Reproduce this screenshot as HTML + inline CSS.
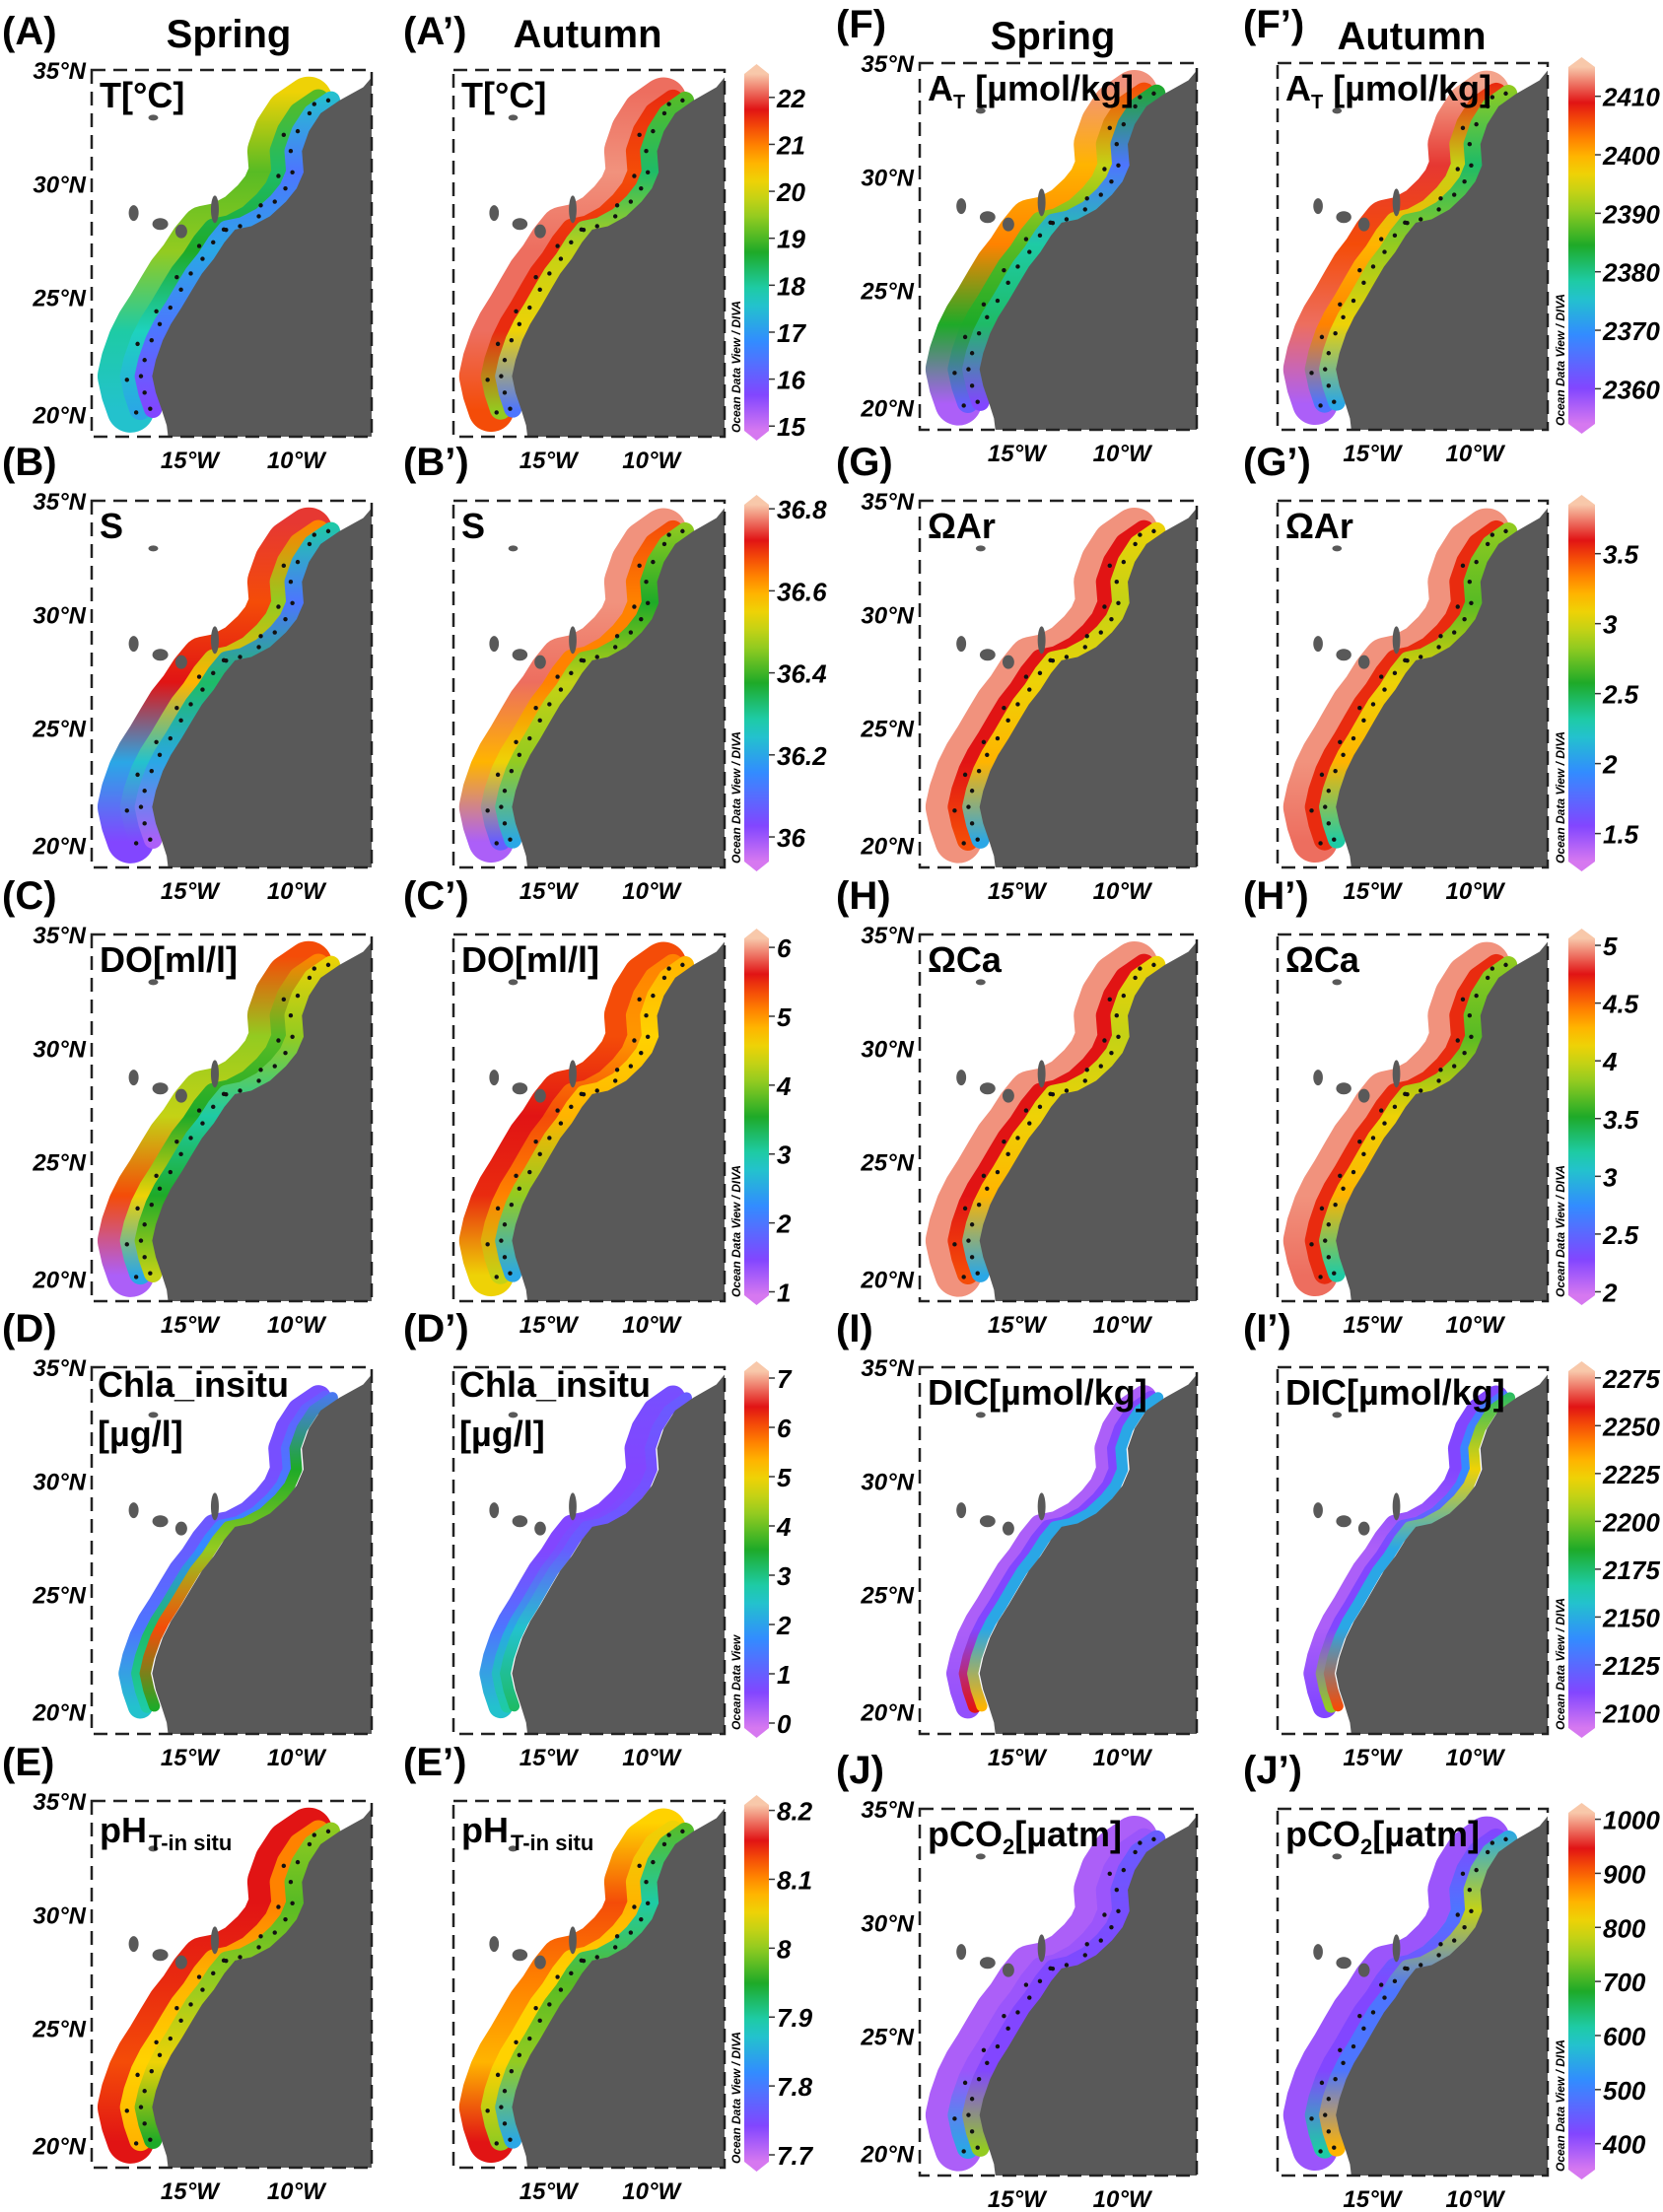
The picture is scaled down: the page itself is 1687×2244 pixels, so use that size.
<!DOCTYPE html>
<html><head><meta charset="utf-8">
<style>
html,body{margin:0;padding:0;background:#fff;}
svg{display:block;font-family:"Liberation Sans",sans-serif;}
.lab{font-weight:bold;font-size:40px;}
.ttl{font-weight:bold;font-size:36px;}
.ax{font-weight:bold;font-style:italic;font-size:24px;}
.cbl{font-weight:bold;font-style:italic;font-size:26px;}
</style></head>
<body>
<svg id="fig" width="1687" height="2244" viewBox="0 0 1687 2244" xmlns="http://www.w3.org/2000/svg"></svg>
<script>
// ---- data ----
const panelLetters = ["A","A\u2019","F","F\u2019","B","B\u2019","G","G\u2019","C","C\u2019","H","H\u2019","D","D\u2019","I","I\u2019","E","E\u2019","J","J\u2019"];
const outerVals = [
 [0.7,0.55,0.6,0.4,0.35],[0.95,0.97,0.95,0.95,0.85],[0.97,0.75,0.8,0.5,0.05],[0.98,0.92,0.85,0.95,0.05],
 [0.92,0.85,0.9,0.3,0.1],[0.97,0.97,0.95,0.75,0.05],[0.97,0.97,0.97,0.97,0.97],[0.97,0.97,0.97,0.97,0.95],
 [0.85,0.6,0.65,0.85,0.05],[0.85,0.85,0.9,0.88,0.7],[0.97,0.97,0.97,0.97,0.97],[0.97,0.97,0.97,0.97,0.95],
 [0.12,0.12,0.15,0.2,0.35],[0.12,0.1,0.1,0.2,0.35],[0.05,0.05,0.05,0.05,0.08],[0.1,0.1,0.05,0.05,0.1],
 [0.9,0.9,0.88,0.85,0.9],[0.72,0.85,0.8,0.75,0.9],[0.05,0.05,0.05,0.05,0.05],[0.07,0.07,0.07,0.07,0.07]];
const midVals = [
 [0.55,0.45,0.5,0.38,0.3],[0.88,0.85,0.88,0.88,0.6],[0.85,0.65,0.55,0.5,0.15],[0.88,0.65,0.75,0.8,0.2],
 [0.8,0.6,0.75,0.35,0.1],[0.85,0.8,0.8,0.7,0.15],[0.9,0.9,0.9,0.9,0.85],[0.88,0.88,0.88,0.88,0.88],
 [0.8,0.55,0.5,0.7,0.3],[0.8,0.78,0.85,0.8,0.65],[0.9,0.9,0.9,0.9,0.85],[0.88,0.88,0.88,0.88,0.88],
 [0.15,0.2,0.25,0.45,0.4],[0.12,0.1,0.12,0.3,0.4],[0.1,0.1,0.1,0.1,0.9],[0.2,0.25,0.1,0.1,0.6],
 [0.8,0.8,0.75,0.72,0.75],[0.7,0.75,0.72,0.72,0.6],[0.07,0.07,0.07,0.07,0.3],[0.1,0.2,0.1,0.1,0.4]];
const innerVals = [
 [0.35,0.2,0.3,0.2,0.1],[0.55,0.45,0.65,0.7,0.2],[0.5,0.2,0.4,0.45,0.1],[0.6,0.45,0.6,0.7,0.3],
 [0.4,0.2,0.45,0.3,0.05],[0.6,0.5,0.65,0.6,0.3],[0.7,0.65,0.7,0.75,0.3],[0.6,0.55,0.7,0.75,0.4],
 [0.7,0.6,0.4,0.5,0.65],[0.75,0.72,0.75,0.6,0.3],[0.7,0.65,0.7,0.75,0.3],[0.6,0.55,0.7,0.75,0.4],
 [0.2,0.5,0.6,0.85,0.5],[0.15,0.12,0.15,0.35,0.45],[0.3,0.3,0.3,0.3,0.75],[0.45,0.7,0.3,0.3,0.85],
 [0.6,0.55,0.6,0.7,0.5],[0.55,0.4,0.55,0.6,0.3],[0.15,0.12,0.1,0.1,0.6],[0.3,0.65,0.2,0.2,0.75]];
const leftTicks = [[15,16,17,18,19,20,21,22],[36,36.2,36.4,36.6,36.8],[1,2,3,4,5,6],[0,1,2,3,4,5,6,7],[7.7,7.8,7.9,8,8.1,8.2]];
const leftTickLabels = [["15","16","17","18","19","20","21","22"],["36","36.2","36.4","36.6","36.8"],["1","2","3","4","5","6"],["0","1","2","3","4","5","6","7"],["7.7","7.8","7.9","8","8.1","8.2"]];
const leftRange = [[14.9,22.5],[35.94,36.81],[0.95,6.13],[-0.1,7.14],[7.69,8.208]];
const rightTicks = [[2360,2370,2380,2390,2400,2410],[1.5,2,2.5,3,3.5],[2,2.5,3,3.5,4,4.5,5],[2100,2125,2150,2175,2200,2225,2250,2275],[400,500,600,700,800,900,1000]];
const rightTickLabels = [["2360","2370","2380","2390","2400","2410"],["1.5","2","2.5","3","3.5"],["2","2.5","3","3.5","4","4.5","5"],["2100","2125","2150","2175","2200","2225","2250","2275"],["400","500","600","700","800","900","1000"]];
const rightRange = [[2354,2415],[1.3,3.85],[1.97,5.06],[2092,2278.5],[352,1012]];
const latLabels = ["35°N","30°N","25°N","20°N"];
const latFrac = [0,0.31,0.62,0.94];
const lonLabels = ["15°W","10°W"];
const lonFrac = [0.35,0.73];

// ---- layout ----
const NS="http://www.w3.org/2000/svg";
const svg=document.getElementById('fig');
function mk(tag,attrs,parent){const e=document.createElementNS(NS,tag);for(const k in attrs)e.setAttribute(k,attrs[k]);(parent||svg).appendChild(e);return e;}
const cols=[{x:93,w:284},{x:460,w:275},{x:933,w:281},{x:1296,w:274}];
const leftTops=[71,508,948,1387,1827], rightTops=[64,508,948,1387,1835];
const H=372;
const cmap=[[0,[214,120,240]],[0.1,[130,70,255]],[0.25,[50,140,255]],[0.38,[30,210,190]],[0.5,[30,170,40]],[0.62,[170,210,30]],[0.72,[255,210,0]],[0.82,[255,110,0]],[0.9,[225,20,20]],[1,[248,200,170]]];
function col(v){v=Math.max(0,Math.min(1,v));for(let i=1;i<cmap.length;i++){if(v<=cmap[i][0]){const a=cmap[i-1],b=cmap[i],t=(v-a[0])/(b[0]-a[0]);const c=a[1].map((x,j)=>Math.round(x+(b[1][j]-x)*t));return `rgb(${c[0]},${c[1]},${c[2]})`;}}return 'rgb(248,200,170)';}
const coast=[[1.0,.02],[.97,.047],[.885,.083],[.818,.118],[.776,.167],[.751,.221],[.757,.279],[.732,.323],[.694,.359],[.637,.399],[.570,.426],[.512,.435],[.474,.470],[.436,.515],[.394,.555],[.359,.599],[.321,.648],[.283,.693],[.254,.737],[.229,.791],[.216,.835],[.229,.880],[.249,.924],[.268,.969],[.273,1.0]];
const islands=[[0.15,0.39,5,8],[0.245,0.42,8,6],[0.32,0.44,6,7],[0.44,0.38,4,14],[0.22,0.13,5,3]];
const defs=mk('defs',{});
const titles=[
 ['T[°C]'],['T[°C]'],['AT'],['AT'],['S'],['S'],['ΩAr'],['ΩAr'],['DO[ml/l]'],['DO[ml/l]'],['ΩCa'],['ΩCa'],
 ['CHLA'],['CHLA'],['DIC[µmol/kg]'],['DIC[µmol/kg]'],['PH'],['PH'],['PCO'],['PCO']];

function txt(s,attrs,name){const t=mk('text',attrs);t.textContent=s;return t;}
txt('Spring',{x:232,y:48,'text-anchor':'middle',class:'lab','font-size':'44'},'spring-header-left');
txt('Autumn',{x:596,y:48,'text-anchor':'middle',class:'lab','font-size':'44'},'autumn-header-left');
txt('Spring',{x:1068,y:50,'text-anchor':'middle',class:'lab','font-size':'44'},'spring-header-right');
txt('Autumn',{x:1432,y:50,'text-anchor':'middle',class:'lab','font-size':'44'},'autumn-header-right');

for(let p=0;p<20;p++){
  const r=Math.floor(p/4), c=p%4, C=cols[c];
  const top=(c<2?leftTops:rightTops)[r];
  const g=mk('g',{});
  
  
  const X=f=>C.x+f*C.w, Y=f=>top+f*H;
  const cid='clip'+p;
  const cp=mk('clipPath',{id:cid},defs);mk('rect',{x:C.x,y:top,width:C.w,height:H},cp);
  mk('rect',{x:C.x,y:top,width:C.w,height:H,fill:'#fff'},g);
  const inner=mk('g',{'clip-path':`url(#${cid})`},g);
  const seg=coast.filter(q=>q[1]>=0.08&&q[1]<=0.925);
  const y1=Y(0.06),y2=Y(0.93);
  const layers=[[outerVals[p],0.11,0.17],[midVals[p],0.075,0.08],[innerVals[p],0.03,0.065]];
  if(r===3){layers[0][1]=0.075;layers[0][2]=0.09;layers[1][1]=0.05;layers[1][2]=0.05;layers[2][1]=0.025;layers[2][2]=0.04;}
  layers.forEach((L,li)=>{
    const gid=`gr${p}_${li}`;
    const gr=mk('linearGradient',{id:gid,gradientUnits:'userSpaceOnUse',x1:0,y1:y1,x2:0,y2:y2},defs);
    L[0].forEach((v,i)=>mk('stop',{offset:i/(L[0].length-1),'stop-color':col(v)},gr));
    const pl=mk('polyline',{points:seg.map(q=>`${X(q[0]-L[1])},${Y(q[1])}`).join(' '),fill:'none',stroke:`url(#${gid})`,'stroke-width':L[2]*C.w,'stroke-linejoin':'round','stroke-linecap':'round'},inner);
    
    
  });
  const land=mk('polygon',{points:coast.map(q=>`${X(q[0])},${Y(q[1])}`).join(' ')+` ${X(1)},${Y(1)} ${X(1)},${Y(0.02)}`,fill:'#595959'},inner);
  
  
  islands.forEach(is=>{const e=mk('ellipse',{cx:X(is[0]),cy:Y(is[1]),rx:is[2]*C.w/284,ry:is[3],fill:'#595959'},inner);
    });
  if(r!==3){seg.forEach((q,i)=>{
    const d=mk('circle',{cx:X(q[0]-0.04),cy:Y(q[1]),r:2.2,fill:'#111'},inner);
    if(i%2===0){const d2=mk('circle',{cx:X(q[0]-0.09),cy:Y(q[1]+0.01),r:2.2,fill:'#111'},inner);}
  });}
  const fr=mk('rect',{x:C.x,y:top,width:C.w,height:H,fill:'none',stroke:'#222','stroke-width':2.5,'stroke-dasharray':'14 8'},g);
  
  const lx=[2,409,848,1261][c];
  txt('('+panelLetters[p]+')',{x:lx,y:top-26,class:'lab'},'panel-label');
  const t=titles[p][0], tx=C.x+8, ty=top+38;
  if(t==='CHLA'){txt('Chla_insitu',{x:tx-2,y:top+30,class:'ttl'},'parameter-title');txt('[µg/l]',{x:tx-2,y:top+80,class:'ttl'},'parameter-title');}
  else if(t==='AT'){const e=txt('',{x:tx,y:ty,class:'ttl','font-size':'33'},'parameter-title');e.innerHTML='A<tspan font-size="20" dy="8">T</tspan><tspan dy="-8"> [µmol/kg]</tspan>';}
  else if(t==='PH'){const e=txt('',{x:tx,y:ty+4,class:'ttl','font-size':'33'},'parameter-title');e.innerHTML='pH<tspan font-size="22" dy="8" dx="2">T-in situ</tspan>';}
  else if(t==='PCO'){const e=txt('',{x:tx,y:ty,class:'ttl','font-size':'33'},'parameter-title');e.innerHTML='pCO<tspan font-size="22" dy="8">2</tspan><tspan dy="-8">[µatm]</tspan>';}
  else txt(t,{x:tx,y:ty,class:'ttl','font-size':t.length>6?'33':'36'},'parameter-title');
  if(c===0||c===2){latLabels.forEach((s,i)=>txt(s,{x:C.x-6,y:Y(latFrac[i])+9,'text-anchor':'end',class:'ax'},'latitude-tick-label'));}
  lonLabels.forEach((s,i)=>txt(s,{x:X(lonFrac[i]),y:top+H+32,'text-anchor':'middle',class:'ax'},'longitude-tick-label'));
}

function colorbar(x,w,top,bot,ticks,labels,range,name,odvText){
  const g=mk('g',{});
  const gid='cb'+name;
  const gr=mk('linearGradient',{id:gid,x1:0,y1:1,x2:0,y2:0},defs);
  for(let i=0;i<=20;i++)mk('stop',{offset:i/20,'stop-color':col(i/20)},gr);
  mk('rect',{x:x,y:top+10,width:w,height:bot-top-20,fill:`url(#${gid})`},g);
  mk('polygon',{points:`${x},${top+10} ${x+w/2},${top} ${x+w},${top+10}`,fill:col(1)},g);
  mk('polygon',{points:`${x},${bot-10} ${x+w/2},${bot} ${x+w},${bot-10}`,fill:col(0)},g);
  const yv=v=>(top+10)+(range[1]-v)/(range[1]-range[0])*(bot-top-20);
  ticks.forEach((v,i)=>{
    const tk=mk('line',{x1:x+w,x2:x+w+6,y1:yv(v),y2:yv(v),stroke:'#333','stroke-width':1.5},g);
    
    txt(labels[i],{x:x+w+8,y:yv(v)+10,class:'cbl'},'colorbar-tick-label');
  });
  txt(odvText,{x:0,y:0,'font-size':'12','font-weight':'bold','font-style':'italic',transform:`translate(${x-4},${bot-8}) rotate(-90)`},'colorbar-credit');
}
for(let r=0;r<5;r++){
  colorbar(755,25,leftTops[r]-6,leftTops[r]+H+4,leftTicks[r],leftTickLabels[r],leftRange[r],'colorbar-left-row'+r,r===3?'Ocean Data View':'Ocean Data View / DIVA');
  colorbar(1591,27,rightTops[r]-6,rightTops[r]+H+4,rightTicks[r],rightTickLabels[r],rightRange[r],'colorbar-right-row'+r,'Ocean Data View / DIVA');
}
</script>
</body></html>
